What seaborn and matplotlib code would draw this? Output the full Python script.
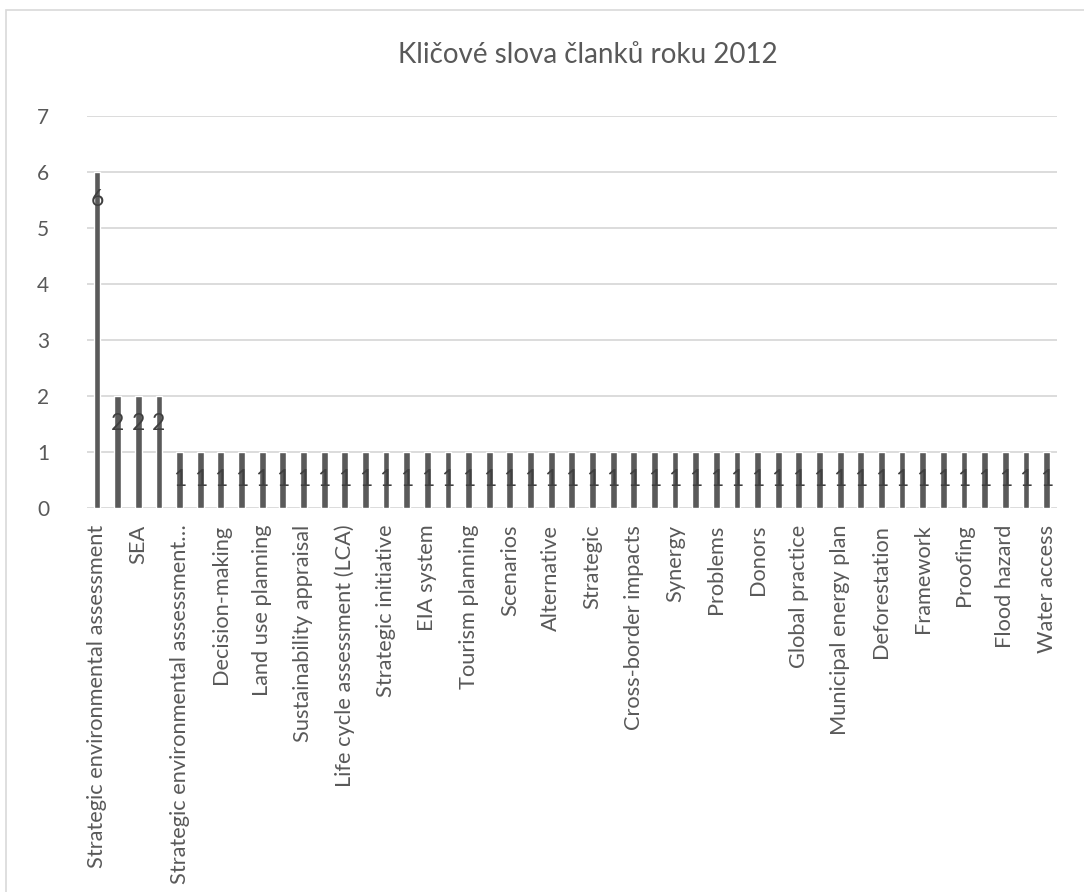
import matplotlib
matplotlib.use("Agg")
import matplotlib.pyplot as plt
import seaborn as sns
import pandas as pd
from matplotlib.patches import Rectangle

# Keyword frequencies of 2012 articles (47 keywords, every other one labelled on the axis)
counts = [6, 2, 2, 2] + [1] * 43
shown_labels = [
    "Strategic environmental assessment", "SEA", "Strategic environmental assessment…",
    "Decision-making", "Land use planning", "Sustainability appraisal",
    "Life cycle assessment (LCA)", "Strategic initiative", "EIA system",
    "Tourism planning", "Scenarios", "Alternative", "Strategic",
    "Cross-border impacts", "Synergy", "Problems", "Donors", "Global practice",
    "Municipal energy plan", "Deforestation", "Framework", "Proofing",
    "Flood hazard", "Water access",
]
title = "Kličové slova članků roku 2012"
y_ticks = [0, 1, 2, 3, 4, 5, 6, 7]

sns.set_theme(style="white")
plt.rcParams["font.family"] = ["Lato", "DejaVu Sans"]

text_col = "#595959"
bar_col = "#5a5a5a"
grid_col = "#d9d9d9"

df = pd.DataFrame({"pos": list(range(len(counts))), "count": counts})

fig = plt.figure(figsize=(10.84, 8.92), dpi=100)
# chart-area frame (left and top edges fall inside the image)
fig.patches.append(Rectangle((6 / 1084, -0.1), 1.2, 1.1 - 10 / 892,
                             transform=fig.transFigure, fill=False,
                             edgecolor=grid_col, linewidth=1.2, zorder=0))
ax = fig.add_axes([0.080, 0.4305, 0.895, 0.4395])

sns.barplot(data=df, x="pos", y="count", color=bar_col, width=0.33,
            saturation=1, ax=ax, zorder=3)

ax.set_ylim(0, 7)
ax.set_xlim(-0.5, len(counts) - 0.5)
ax.set_yticks(y_ticks)
ax.set_yticklabels([str(t) for t in y_ticks], fontsize=15, color=text_col)
ax.tick_params(axis="y", length=0, pad=27)
ax.set_xticks(list(range(0, len(counts), 2)))
ax.set_xticklabels(shown_labels, rotation=90, fontsize=15.7, color=text_col,
                   ha="center", va="top")
ax.tick_params(axis="x", length=0, pad=12)
ax.set_xlabel("")
ax.set_ylabel("")

ax.yaxis.grid(True, color=grid_col, linewidth=1.3, zorder=0)
ax.set_axisbelow(True)
for s in ax.spines.values():
    s.set_visible(False)

for i, v in enumerate(counts):
    ax.annotate(str(v), (i, v), xytext=(0, -20), textcoords="offset points",
                ha="center", va="center", fontsize=16.5, color="#404040", zorder=4)

fig.text(0.542, 1 - 55 / 892, title, ha="center", va="center",
         fontsize=20, color=text_col)

fig.savefig("out.png", dpi=100)
